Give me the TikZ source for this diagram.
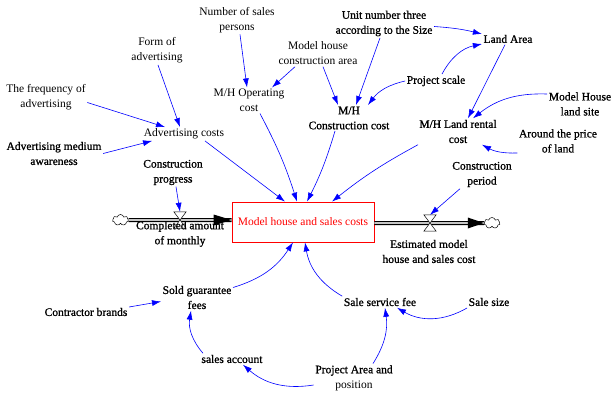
\documentclass[tikz,border=0pt]{standalone}
\usepackage{fontspec}
\setmainfont{Liberation Serif}
\newfontfamily\hv[FakeBold=1]{Liberation Serif}
\usetikzlibrary{arrows.meta,shapes.symbols}
\definecolor{lnblue}{RGB}{0,0,255}
\tikzset{
  lbl/.style={align=center, inner sep=1.5pt, font=\fontsize{11.5}{15}\selectfont},
  hlbl/.style={align=center, inner sep=1.5pt, font=\fontsize{11.5}{15}\selectfont\hv},
  ar/.style={draw=lnblue, line width=0.6pt, -{Latex[length=9pt,width=6pt]}},
  stockbox/.style={draw=red, line width=0.8pt, fill=white, minimum width=142pt, minimum height=40pt, text=red, inner sep=0pt, font=\fontsize{11.5}{15}\selectfont},
  pipe/.style={draw=black, line width=4pt},
  pipein/.style={draw=gray!45, line width=1.8pt},
  valveshape/.style={draw=black, fill=white, line width=0.5pt},
  valvenode/.style={inner sep=0pt, minimum width=12pt, minimum height=16pt},
  cld/.style={cloud, cloud puffs=7, draw, line width=0.5pt, minimum width=16pt, minimum height=11pt, inner sep=0pt, aspect=1.5}
}
\begin{document}
\begin{tikzpicture}[x=1pt,y=-1pt]
\useasboundingbox (0,0) rectangle (611,396);
% stock and flows
\node[stockbox] (box) at (303,222) {Model house and sales costs};
\node[cld] (cl1) at (120.5,220) {};
\node[cld] (cl2) at (492,223) {};
\node[valvenode] (vl) at (180,220) {};
\node[valvenode] (vr) at (430,223) {};
\draw[pipe] (cl1.east) -- (box.west |- cl1);
\draw[pipein] (cl1.east) -- (box.west |- cl1);
\draw[pipe] (box.east |- cl2) -- (cl2.west);
\draw[pipein] (box.east |- cl2) -- (cl2.west);
\fill (box.west |- cl1) -- ++(-18,5.5) -- ++(0,-11) -- cycle;
\fill (cl2.west) -- ++(-16,5.5) -- ++(0,-11) -- cycle;
\draw[valveshape] (vl.north west) -- (vl.north east) -- (vl.south west) -- (vl.south east) -- cycle;
\draw[valveshape] (vr.north west) -- (vr.north east) -- (vr.south west) -- (vr.south east) -- cycle;
% labels
\node[lbl] (nsp) at (237,20) {Number of sales\\persons};
\node[lbl] (foa) at (157,50.5) {Form of\\advertising};
\node[lbl] (mhca) at (318,53.5) {Model house\\construction area};
\node[hlbl] (unt) at (384,23.5) {Unit number three\\according to the Size};
\node[hlbl] (land) at (508,39) {Land Area};
\node[hlbl] (psc) at (436,81) {Project scale};
\node[hlbl] (mhls) at (580,104) {Model House\\land site};
\node[hlbl] (mcc) at (349,118) {M/H\\Construction cost};
\node[hlbl] (mlr) at (458,131.5) {M/H Land rental\\cost};
\node[hlbl] (apl) at (558,141) {Around the price\\of land};
\node[hlbl] (cper) at (482,174.5) {Construction\\period};
\node[lbl] (opc) at (249,100.5) {M/H Operating\\cost};
\node[lbl] (freq) at (46,97.5) {The frequency of\\advertising};
\node[lbl] (adc) at (184,134) {Advertising costs};
\node[hlbl] (amed) at (54,153.5) {Advertising medium\\awareness};
\node[hlbl] (cprog) at (173,172.5) {Construction\\progress};
\node[hlbl] (cam) at (180,234) {Completed amount\\of monthly};
\node[hlbl] (est) at (429,251.5) {Estimated model\\house and sales cost};
\node[hlbl] (sgf) at (197,297.5) {Sold guarantee\\fees};
\node[hlbl] (cbr) at (86,312) {Contractor brands};
\node[hlbl] (sac) at (232,359) {sales account};
\node[hlbl] (ssf) at (380,302) {Sale service fee};
\node[hlbl] (ssz) at (489,302) {Sale size};
\node[lbl] (pap) at (354,378) {{\hv Project Area and}\\position};
% connectors
\draw[ar] ([xshift=3pt]nsp.south) -- ([xshift=-2pt]opc.north);
\draw[ar] ([xshift=-23pt]mhca.south) -- ([xshift=23pt]opc.north);
\draw[ar] ([xshift=1pt]foa.south) -- ([xshift=-4pt]adc.north);
\draw[ar] ([yshift=-5pt]freq.east) -- ([xshift=-19pt]adc.north);
\draw[ar] (amed.east) -- ([xshift=-32pt]adc.south);
\draw[ar] ([xshift=21pt]adc.south) -- ([xshift=-18pt]box.north);
\draw[ar] ([xshift=11pt]opc.south) to[bend left=5] ([xshift=-6pt]box.north);
\draw[ar] ([xshift=-14pt]mcc.south) to[bend left=5] ([xshift=4pt]box.north);
\draw[ar] ([xshift=-40pt]mlr.south) to[bend right=5] ([xshift=29pt]box.north);
\draw[ar] ([xshift=5pt]mhca.south) -- ([xshift=-11pt]mcc.north);
\draw[ar] ([xshift=-4pt]unt.south) -- ([xshift=7pt]mcc.north);
\draw[ar] (psc.west) to[bend right=20] ([xshift=19pt]mcc.north);
\draw[ar] ([yshift=-3pt]unt.east) to[bend left=5] ([yshift=5pt]land.west);
\draw[ar] ([xshift=6pt]psc.north) to[bend left=25] ([yshift=-5pt]land.west);
\draw[ar] ([xshift=-3pt]land.south) -- ([xshift=10pt]mlr.north);
\draw[ar] ([yshift=10pt]mhls.west) to[bend right=20] ([xshift=15pt]mlr.north);
\draw[ar] ([yshift=-12pt]apl.west) to[bend left=15] ([xshift=24pt]mlr.south);
\draw[ar] ([xshift=-22pt]cper.south) -- (vr.north);
\draw[ar] ([xshift=3pt]cprog.south) -- (vl.north);
\draw[ar] ([yshift=10pt]sgf.east) to[bend right=20] ([xshift=-10pt]box.south);
\draw[ar] (ssf.north west) to[bend left=25] ([xshift=2pt]box.south);
\draw[ar] ([yshift=5pt]cbr.east) -- ([yshift=-4pt]sgf.west);
\draw[ar] ([xshift=-29pt]sac.north) to[bend left=25] ([xshift=-6pt]sgf.south);
\draw[ar] ([yshift=-7pt]pap.west) to[bend left=25] ([xshift=11pt]sac.south);
\draw[ar] ([xshift=19pt]pap.north) to[bend right=20] ([xshift=5pt]ssf.south);
\draw[ar] ([yshift=-6pt]ssz.west) to[bend left=30] ([xshift=17pt]ssf.south);
\end{tikzpicture}
\end{document}
